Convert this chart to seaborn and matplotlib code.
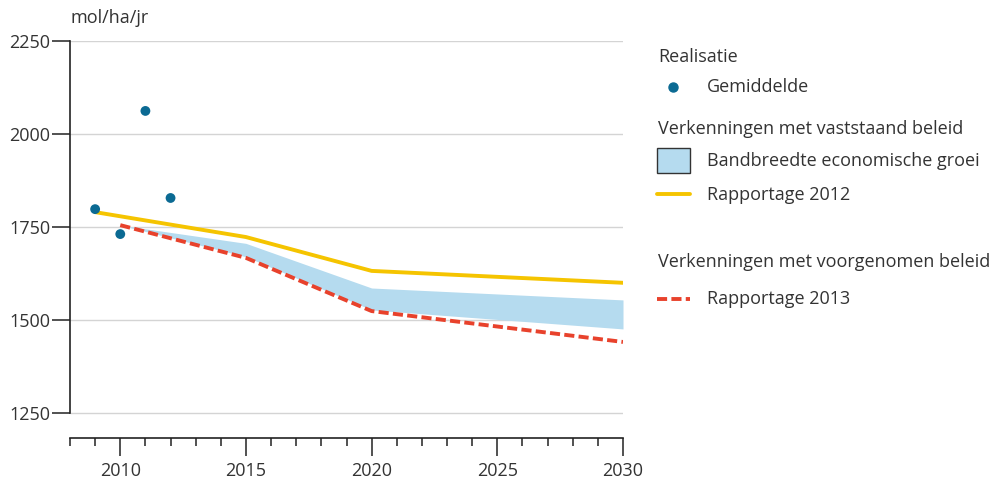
import matplotlib
matplotlib.use("Agg")
import matplotlib.pyplot as plt
import seaborn as sns
import pandas as pd
from matplotlib.lines import Line2D
from matplotlib.patches import Rectangle

# Data
real_years = [2009, 2010, 2011, 2012]
real_values = [1798, 1731, 2062, 1828]

r2012_years = [2009, 2015, 2020, 2030]
r2012_values = [1790, 1723, 1632, 1600]

r2013_years = [2010, 2015, 2020, 2030]
r2013_values = [1755, 1667, 1524, 1441]

band_years = [2010, 2015, 2020, 2030]
band_upper = [1755, 1706, 1586, 1554]
band_lower = [1755, 1670, 1527, 1476]

yticks = [1250, 1500, 1750, 2000, 2250]
xticks_major = [2010, 2015, 2020, 2025, 2030]

sns.set_theme(style="white")
plt.rcParams['font.family'] = ['Open Sans', 'DejaVu Sans']

TXT = "#333333"
C_DOT = "#0b6a93"
C_YEL = "#f5c400"
C_RED = "#e8422c"
C_BAND = "#b5dbef"
DASH = (0, (2.6, 1.1))

fig = plt.figure(figsize=(9.91, 4.80), dpi=100)
ax = fig.add_axes([70/991, 42/480, 553/991, 397/480])

# gridlines
for yv in yticks:
    ax.axhline(yv, color="#d4d4d4", lw=1.0, zorder=0)

ax.fill_between(band_years, band_lower, band_upper, color=C_BAND, lw=0, zorder=1)

df12 = pd.DataFrame({"jaar": r2012_years, "waarde": r2012_values})
df13 = pd.DataFrame({"jaar": r2013_years, "waarde": r2013_values})
dfr = pd.DataFrame({"jaar": real_years, "waarde": real_values})

sns.lineplot(data=df12, x="jaar", y="waarde", ax=ax, color=C_YEL, lw=2.8, zorder=3)
sns.lineplot(data=df13, x="jaar", y="waarde", ax=ax, color=C_RED, lw=2.8,
             linestyle=DASH, zorder=3)
sns.scatterplot(data=dfr, x="jaar", y="waarde", ax=ax, color=C_DOT, s=50,
                edgecolor="none", zorder=4)

ax.set_xlim(2008, 2030)
ax.set_ylim(2250 - 397/0.372, 2250)
ax.set_xlabel("")
ax.set_ylabel("")

for s in ["top", "right"]:
    ax.spines[s].set_visible(False)
ax.spines["left"].set_bounds(1250, 2250)
ax.spines["left"].set_color("#222222")
ax.spines["left"].set_linewidth(1.2)
ax.spines["bottom"].set_color("#222222")
ax.spines["bottom"].set_linewidth(1.2)

fs = 13
ax.set_yticks(yticks)
ax.set_yticklabels([str(v) for v in yticks], fontsize=fs, color=TXT)
ax.tick_params(axis="y", direction="out", length=13, width=1.1, color="#222222", pad=1, left=True)

ax.set_xticks(xticks_major)
ax.set_xticklabels([str(v) for v in xticks_major], fontsize=fs, color=TXT)
ax.set_xticks(list(range(2008, 2031)), minor=True)
ax.tick_params(axis="x", which="major", direction="out", length=13, width=1.1,
               color="#222222", pad=4, bottom=True)
ax.tick_params(axis="x", which="minor", direction="out", length=6, width=1.1,
               color="#222222", bottom=True)

fig.text(70/991, 1 - 18/480, "mol/ha/jr", fontsize=fs, color=TXT,
         ha="left", va="center")

# Legend (figure coordinates in pixels)
def fx(x):
    return x / 991

def fy(y):
    return 1 - y / 480

lfs = 13
fig.text(fx(658), fy(57), "Realisatie", fontsize=lfs, color=TXT, va="center")
fig.add_artist(Line2D([fx(673)], [fy(87)], marker="o", markersize=6.5,
                      color=C_DOT, lw=0))
fig.text(fx(707), fy(87), "Gemiddelde", fontsize=lfs, color=TXT, va="center")
fig.text(fx(658), fy(129), "Verkenningen met vaststaand beleid", fontsize=lfs,
         color=TXT, va="center")
fig.add_artist(Rectangle((fx(657), fy(173)), fx(33), 25/480, facecolor=C_BAND,
                         edgecolor="#333333", lw=1.0))
fig.text(fx(707), fy(161), "Bandbreedte economische groei", fontsize=lfs,
         color=TXT, va="center")
fig.add_artist(Line2D([fx(657), fx(690)], [fy(194), fy(194)], color=C_YEL, lw=2.8))
fig.text(fx(707), fy(195), "Rapportage 2012", fontsize=lfs, color=TXT, va="center")
fig.text(fx(658), fy(262), "Verkenningen met voorgenomen beleid", fontsize=lfs,
         color=TXT, va="center")
fig.add_artist(Line2D([fx(657), fx(690)], [fy(299), fy(299)], color=C_RED, lw=2.8,
                      linestyle=DASH))
fig.text(fx(707), fy(299), "Rapportage 2013", fontsize=lfs, color=TXT, va="center")

fig.savefig("out.png", dpi=100)
